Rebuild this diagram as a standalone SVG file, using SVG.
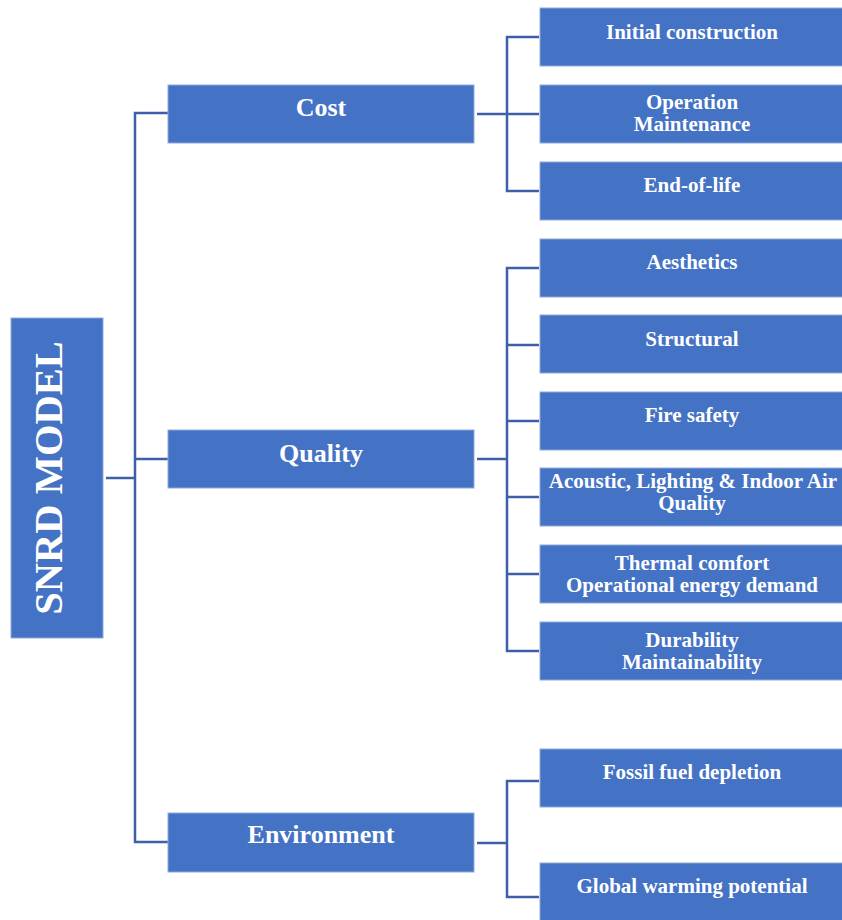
<svg xmlns="http://www.w3.org/2000/svg" width="842" height="920" viewBox="0 0 842 920">
  <style>
    .box { fill: #4472C4; stroke: #8EA9DB; stroke-width: 1; }
    .lbl { font-family: "Liberation Serif", "Times New Roman", serif; font-weight: bold; fill: #FFFFFF; text-anchor: middle; }
    .l1 { font-size: 26px; }
    .l2 { font-size: 21px; }
    .root { font-size: 40.5px; }
    .wire { fill: none; stroke: #3F60A8; stroke-width: 2.5; }
  </style>

  <!-- connectors -->
  <g id="connectors">
    <!-- root to first level -->
    <path class="wire" d="M106,478 H135"/>
    <path class="wire" d="M168,113 H135 V842 H168"/>
    <path class="wire" d="M135,459 H168"/>
    <!-- Cost branch -->
    <path class="wire" d="M477,114 H507"/>
    <path class="wire" d="M539,37 H507 V191 H539"/>
    <path class="wire" d="M507,114 H539"/>
    <!-- Quality branch -->
    <path class="wire" d="M477,459 H507"/>
    <path class="wire" d="M539,268 H507 V651 H539"/>
    <path class="wire" d="M507,345 H539 M507,421 H539 M507,497 H539 M507,574 H539"/>
    <!-- Environment branch -->
    <path class="wire" d="M477,843 H507"/>
    <path class="wire" d="M539,781 H507 V897 H539"/>
  </g>

  <!-- root -->
  <g id="snrd">
    <rect class="box" x="11" y="318" width="92" height="320"/>
    <text class="lbl root" transform="translate(62,478) rotate(-90)">SNRD MODEL</text>
  </g>

  <!-- first level -->
  <g id="cost">
    <rect class="box" x="168" y="85" width="306" height="58"/>
    <text class="lbl l1" x="321" y="116">Cost</text>
  </g>
  <g id="quality">
    <rect class="box" x="168" y="430" width="306" height="58"/>
    <text class="lbl l1" x="321" y="462">Quality</text>
  </g>
  <g id="environment">
    <rect class="box" x="168" y="813" width="306" height="59"/>
    <text class="lbl l1" x="321" y="843">Environment</text>
  </g>

  <!-- Cost children -->
  <g id="initial-construction">
    <rect class="box" x="540" y="8" width="303" height="58"/>
    <text class="lbl l2" x="692" y="39">Initial construction</text>
  </g>
  <g id="operation-maintenance">
    <rect class="box" x="540" y="85" width="303" height="58"/>
    <text class="lbl l2" x="692" y="109">Operation</text>
    <text class="lbl l2" x="692" y="131">Maintenance</text>
  </g>
  <g id="end-of-life">
    <rect class="box" x="540" y="162" width="303" height="58"/>
    <text class="lbl l2" x="692" y="192">End-of-life</text>
  </g>

  <!-- Quality children -->
  <g id="aesthetics">
    <rect class="box" x="540" y="239" width="303" height="58"/>
    <text class="lbl l2" x="692" y="269">Aesthetics</text>
  </g>
  <g id="structural">
    <rect class="box" x="540" y="315" width="303" height="58"/>
    <text class="lbl l2" x="692" y="346">Structural</text>
  </g>
  <g id="fire-safety">
    <rect class="box" x="540" y="392" width="303" height="58"/>
    <text class="lbl l2" x="692" y="422">Fire safety</text>
  </g>
  <g id="acoustic-lighting-iaq">
    <rect class="box" x="540" y="468" width="303" height="58"/>
    <text class="lbl l2" x="693" y="488">Acoustic, Lighting &amp; Indoor Air</text>
    <text class="lbl l2" x="692" y="510">Quality</text>
  </g>
  <g id="thermal-energy">
    <rect class="box" x="540" y="545" width="303" height="58"/>
    <text class="lbl l2" x="692" y="570">Thermal comfort</text>
    <text class="lbl l2" x="692" y="592">Operational energy demand</text>
  </g>
  <g id="durability-maintainability">
    <rect class="box" x="540" y="622" width="303" height="58"/>
    <text class="lbl l2" x="692" y="647">Durability</text>
    <text class="lbl l2" x="692" y="669">Maintainability</text>
  </g>

  <!-- Environment children -->
  <g id="fossil-fuel">
    <rect class="box" x="540" y="749" width="303" height="58"/>
    <text class="lbl l2" x="692" y="779">Fossil fuel depletion</text>
  </g>
  <g id="global-warming">
    <rect class="box" x="540" y="863" width="303" height="58"/>
    <text class="lbl l2" x="692" y="893">Global warming potential</text>
  </g>
</svg>
